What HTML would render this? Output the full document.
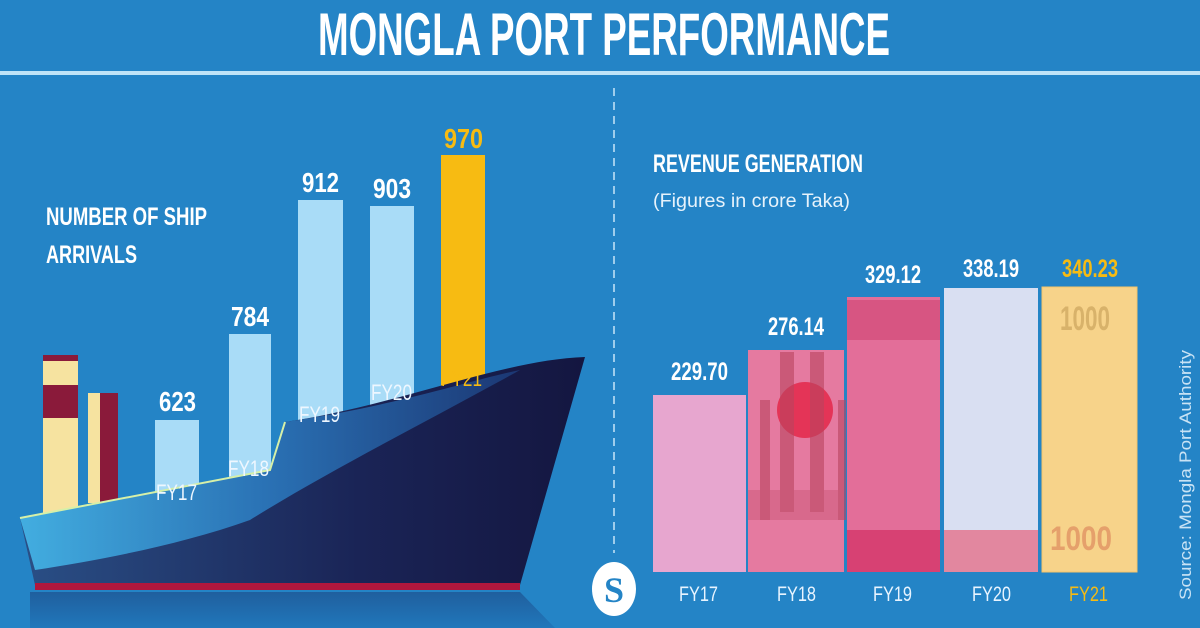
<!DOCTYPE html>
<html><head><meta charset="utf-8"><style>
body{margin:0;width:1200px;height:628px;overflow:hidden;background:#2484c6}
svg{display:block}
.c{font-family:"Liberation Sans",sans-serif;font-weight:bold}
.n{font-family:"Liberation Sans",sans-serif}
</style></head><body>
<svg width="1200" height="628" viewBox="0 0 1200 628" xmlns="http://www.w3.org/2000/svg">
<defs>
<linearGradient id="hull" x1="0" y1="0" x2="1" y2="0">
<stop offset="0" stop-color="#2a4f86"/><stop offset="0.6" stop-color="#1a2456"/><stop offset="1" stop-color="#141640"/></linearGradient>
<linearGradient id="deck" x1="0" y1="0" x2="1" y2="0">
<stop offset="0" stop-color="#45b8ea"/><stop offset="0.5" stop-color="#2b78bd"/><stop offset="1" stop-color="#1c3a78"/></linearGradient>
<linearGradient id="refl" x1="0" y1="0" x2="0" y2="1">
<stop offset="0" stop-color="#1f5f9e"/><stop offset="1" stop-color="#2177bb"/></linearGradient>
</defs>
<rect width="1200" height="628" fill="#2484c6"/>
<text x="318" y="55" class="c" font-size="60" fill="#fff" textLength="572" lengthAdjust="spacingAndGlyphs">MONGLA PORT PERFORMANCE</text>
<rect x="0" y="71" width="1200" height="4" fill="#bfe3f7"/>
<line x1="614" y1="88" x2="614" y2="553" stroke="#9fcdec" stroke-width="2" stroke-dasharray="8 6"/>

<text x="46" y="225" class="c" font-size="25" fill="#fff" textLength="161" lengthAdjust="spacingAndGlyphs">NUMBER OF SHIP</text>
<text x="46" y="263" class="c" font-size="25" fill="#fff" textLength="91" lengthAdjust="spacingAndGlyphs">ARRIVALS</text>

<g fill="#a9dcf7">
<rect x="155" y="420" width="44" height="120"/>
<rect x="229" y="334" width="42" height="200"/>
<rect x="298" y="200" width="45" height="300"/>
<rect x="370" y="206" width="44" height="300"/>
</g>
<rect x="441" y="155" width="44" height="300" fill="#f7bb12"/>
<g class="c" font-size="28" fill="#fff">
<text x="159" y="411" textLength="37" lengthAdjust="spacingAndGlyphs">623</text>
<text x="231" y="326" textLength="38" lengthAdjust="spacingAndGlyphs">784</text>
<text x="302" y="192" textLength="37" lengthAdjust="spacingAndGlyphs">912</text>
<text x="373" y="198" textLength="38" lengthAdjust="spacingAndGlyphs">903</text>
<text x="444" y="148" fill="#f7bb12" textLength="39" lengthAdjust="spacingAndGlyphs">970</text>
</g>

<polygon points="30,592 520,592 555,628 30,628" fill="url(#refl)"/>
<rect x="43" y="355" width="35" height="160" fill="#f6e3a0"/>
<rect x="43" y="355" width="35" height="6" fill="#8a1a3a"/>
<rect x="43" y="385" width="35" height="33" fill="#8a1a3a"/>
<rect x="88" y="393" width="30" height="110" fill="#f6e3a0"/>
<rect x="100" y="393" width="18" height="110" fill="#8a1a3a"/>
<path d="M20,518 L270,470 L285,422 C400,405 500,360 585,357 L520,585 L35,585 Z" fill="url(#hull)"/>
<path d="M20,518 L270,470 L285,422 C400,405 470,380 520,370 C430,420 330,470 250,520 C180,545 100,560 35,570 Z" fill="url(#deck)" opacity="0.9"/>
<path d="M20,518 L270,470 L285,422" fill="none" stroke="#d6f0a8" stroke-width="2"/>
<rect x="35" y="583" width="485" height="7" fill="#b0173d"/>
<g class="n" font-size="22" fill="#eef7ff">
<text x="156" y="500" textLength="41" lengthAdjust="spacingAndGlyphs">FY17</text>
<text x="228" y="476" textLength="41" lengthAdjust="spacingAndGlyphs">FY18</text>
<text x="299" y="422" textLength="41" lengthAdjust="spacingAndGlyphs">FY19</text>
<text x="371" y="400" textLength="41" lengthAdjust="spacingAndGlyphs">FY20</text>
<text x="441" y="386" fill="#f7bb12" textLength="41" lengthAdjust="spacingAndGlyphs">FY21</text>
</g>

<ellipse cx="614" cy="589" rx="22" ry="27" fill="#fff"/>
<text x="614" y="602" text-anchor="middle" font-family="Liberation Serif,serif" font-weight="bold" font-size="36" fill="#2484c6">S</text>

<text x="653" y="172" class="c" font-size="25" fill="#fff" textLength="210" lengthAdjust="spacingAndGlyphs">REVENUE GENERATION</text>
<text x="653" y="207" class="n" font-size="19" fill="#e6f2fb" textLength="197" lengthAdjust="spacingAndGlyphs">(Figures in crore Taka)</text>

<rect x="653" y="395" width="93" height="177" fill="#e7a6cf"/>
<rect x="748" y="350" width="96" height="222" fill="#e57aa0"/>
<circle cx="805" cy="410" r="28" fill="#e4284a" opacity="0.85"/>
<g fill="#b9445f" opacity="0.6">
<rect x="760" y="400" width="10" height="120"/><rect x="780" y="352" width="14" height="160"/><rect x="810" y="352" width="14" height="160"/><rect x="838" y="400" width="8" height="120"/>
<rect x="748" y="490" width="96" height="30" opacity="0.5"/>
</g>
<rect x="847" y="297" width="93" height="275" fill="#e36e99"/>
<rect x="847" y="300" width="93" height="40" fill="#c0285a" opacity="0.35"/>
<rect x="847" y="530" width="93" height="42" fill="#d22e63" opacity="0.7"/>
<rect x="944" y="288" width="94" height="284" fill="#d9dff2"/>
<rect x="944" y="530" width="94" height="42" fill="#e2879f"/>
<rect x="1042" y="287" width="95" height="285" fill="#f7d38a" stroke="#f5c46a"/>
<text x="1060" y="330" class="c" font-size="34" fill="#d8b26a" textLength="50" lengthAdjust="spacingAndGlyphs">1000</text>
<text x="1050" y="550" class="c" font-size="34" fill="#e5a06b" textLength="62" lengthAdjust="spacingAndGlyphs">1000</text>

<g class="c" font-size="25" fill="#fff">
<text x="671" y="380" textLength="57" lengthAdjust="spacingAndGlyphs">229.70</text>
<text x="768" y="335" textLength="56" lengthAdjust="spacingAndGlyphs">276.14</text>
<text x="865" y="283" textLength="56" lengthAdjust="spacingAndGlyphs">329.12</text>
<text x="963" y="277" textLength="56" lengthAdjust="spacingAndGlyphs">338.19</text>
<text x="1062" y="277" fill="#f7bb12" textLength="56" lengthAdjust="spacingAndGlyphs">340.23</text>
</g>
<g class="n" font-size="21" fill="#e8f4ff">
<text x="679" y="601" textLength="39" lengthAdjust="spacingAndGlyphs">FY17</text>
<text x="777" y="601" textLength="39" lengthAdjust="spacingAndGlyphs">FY18</text>
<text x="873" y="601" textLength="39" lengthAdjust="spacingAndGlyphs">FY19</text>
<text x="972" y="601" textLength="39" lengthAdjust="spacingAndGlyphs">FY20</text>
<text x="1069" y="601" fill="#f7bb12" textLength="39" lengthAdjust="spacingAndGlyphs">FY21</text>
</g>
<text transform="translate(1191 600) rotate(-90)" class="n" font-size="17" fill="#c9e3f5" textLength="250" lengthAdjust="spacingAndGlyphs">Source:  Mongla Port Authority</text>
</svg>
</body></html>
